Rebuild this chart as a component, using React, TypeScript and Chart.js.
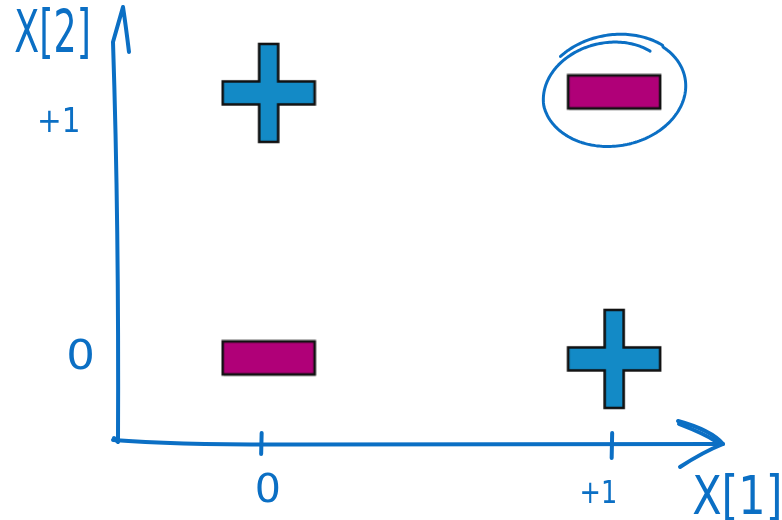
import React, { useEffect, useRef } from "react";
import { Chart, registerables } from "chart.js";

Chart.register(...registerables);

// ---- data ----
const X_TICK_VALUES = [0, 1];
const X_TICK_LABELS = ["0", "+1"];
const Y_TICK_VALUES = [0, 1];
const Y_TICK_LABELS = ["0", "+1"];
const X_TITLE = "X[1]";
const Y_TITLE = "X[2]";
const PLUS_X = [0, 1];
const PLUS_Y = [1, 0];
const MINUS_X = [0, 1];
const MINUS_Y = [0, 1];
const CIRCLED_X = [1];
const CIRCLED_Y = [1];

// ---- style ----
const PEN = "#0b6fc4";
const PLUS_FILL = "#138ac6";
const MINUS_FILL = "#b00078";
const FONT = "'DejaVu Sans'";

function makePlus(): HTMLCanvasElement {
  const W = 92, H = 98, vw = 19, hh = 23, pad = 2;
  const c = document.createElement("canvas");
  c.width = W + pad * 2;
  c.height = H + pad * 2;
  const g = c.getContext("2d")!;
  g.translate(pad, pad);
  const cx = W / 2, cy = H / 2;
  g.beginPath();
  g.moveTo(cx - vw / 2, 0);
  g.lineTo(cx + vw / 2, 0);
  g.lineTo(cx + vw / 2, cy - hh / 2);
  g.lineTo(W, cy - hh / 2);
  g.lineTo(W, cy + hh / 2);
  g.lineTo(cx + vw / 2, cy + hh / 2);
  g.lineTo(cx + vw / 2, H);
  g.lineTo(cx - vw / 2, H);
  g.lineTo(cx - vw / 2, cy + hh / 2);
  g.lineTo(0, cy + hh / 2);
  g.lineTo(0, cy - hh / 2);
  g.lineTo(cx - vw / 2, cy - hh / 2);
  g.closePath();
  g.fillStyle = PLUS_FILL;
  g.fill();
  g.lineWidth = 2.6;
  g.strokeStyle = "#111";
  g.lineJoin = "miter";
  g.stroke();
  return c;
}

function makeMinus(): HTMLCanvasElement {
  const W = 92, H = 33, pad = 2;
  const c = document.createElement("canvas");
  c.width = W + pad * 2;
  c.height = H + pad * 2 + 2;
  const g = c.getContext("2d")!;
  g.translate(pad, pad);
  g.fillStyle = "rgba(0,0,0,0.18)";
  g.fillRect(1, H, W, 2);
  g.fillStyle = MINUS_FILL;
  g.fillRect(0, 0, W, H);
  g.lineWidth = 2.6;
  g.strokeStyle = "#111";
  g.strokeRect(0, 0, W, H);
  return c;
}

function drawFit(ctx: CanvasRenderingContext2D, text: string, left: number, top: number, w: number, h: number) {
  ctx.save();
  ctx.font = `100px ${FONT}`;
  ctx.textAlign = "left";
  ctx.textBaseline = "alphabetic";
  const m = ctx.measureText(text);
  const bw = m.actualBoundingBoxLeft + m.actualBoundingBoxRight;
  const bh = m.actualBoundingBoxAscent + m.actualBoundingBoxDescent;
  ctx.translate(left, top);
  ctx.scale(w / bw, h / bh);
  ctx.fillStyle = PEN;
  ctx.fillText(text, m.actualBoundingBoxLeft, m.actualBoundingBoxAscent);
  ctx.restore();
}

const handDrawn = {
  id: "handDrawn",
  beforeDatasetsDraw(chart: any) {
    const ctx: CanvasRenderingContext2D = chart.ctx;
    const { left, right, top, bottom } = chart.chartArea;
    const xs = chart.scales.x;
    const ys = chart.scales.y;
    ctx.save();
    ctx.strokeStyle = PEN;
    ctx.lineWidth = 4;
    ctx.lineCap = "round";
    ctx.lineJoin = "round";

    // y axis with arrow
    ctx.beginPath();
    ctx.moveTo(left - 4, bottom - 6);
    ctx.lineTo(left, bottom - 2);
    ctx.quadraticCurveTo(left + 1, bottom - 220, left - 5, top + 35);
    ctx.lineTo(left + 5, top);
    ctx.quadraticCurveTo(left + 8, top + 20, left + 11, top + 45);
    ctx.stroke();

    // x axis with arrow
    ctx.beginPath();
    ctx.moveTo(left - 5, bottom - 4);
    ctx.quadraticCurveTo(left + 60, bottom + 1, left + 180, bottom + 0.5);
    ctx.lineTo(right, bottom);
    ctx.stroke();
    ctx.beginPath();
    ctx.moveTo(right - 45, bottom - 23);
    ctx.quadraticCurveTo(right - 12, bottom - 14, right, bottom);
    ctx.quadraticCurveTo(right - 20, bottom + 8, right - 43, bottom + 23);
    ctx.stroke();
    ctx.beginPath();
    ctx.moveTo(right - 44, bottom - 20);
    ctx.quadraticCurveTo(right - 18, bottom - 10, right - 6, bottom - 2);
    ctx.stroke();

    // x tick marks
    const tickNudge = [-7, -2];
    const tickLen = [[-11, 10], [-11, 14]];
    X_TICK_VALUES.forEach((v, i) => {
      const px = xs.getPixelForValue(v) + tickNudge[i];
      ctx.beginPath();
      ctx.moveTo(px, bottom + tickLen[i][0]);
      ctx.lineTo(px - 0.5, bottom + tickLen[i][1]);
      ctx.stroke();
    });
    ctx.restore();

    // x tick labels
    const xBoxes = [
      [-11.5, 29, 21, 29],
      [-32, 36, 33, 23],
    ];
    X_TICK_VALUES.forEach((v, i) => {
      const px = xs.getPixelForValue(v);
      const b = xBoxes[i];
      drawFit(ctx, X_TICK_LABELS[i], px + b[0], bottom + b[1], b[2], b[3]);
    });

    // y tick labels
    const yBoxes = [
      [-49, -20, 23, 31],
      [-78, 14, 38, 25],
    ];
    Y_TICK_VALUES.forEach((v, i) => {
      const py = ys.getPixelForValue(v);
      const b = yBoxes[i];
      drawFit(ctx, Y_TICK_LABELS[i], left + b[0], py + b[1], b[2], b[3]);
    });

    // axis titles
    drawFit(ctx, Y_TITLE, left - 103, top, 73, 53);
    drawFit(ctx, X_TITLE, right - 30, bottom + 29, 86, 48);
  },
  afterDatasetsDraw(chart: any) {
    const ctx: CanvasRenderingContext2D = chart.ctx;
    const xs = chart.scales.x;
    const ys = chart.scales.y;
    ctx.save();
    ctx.strokeStyle = PEN;
    ctx.lineWidth = 3;
    ctx.lineCap = "round";
    ctx.lineJoin = "round";
    CIRCLED_X.forEach((v, i) => {
      const cx = xs.getPixelForValue(v);
      const cy = ys.getPixelForValue(CIRCLED_Y[i]) - 2;
      const rx = 72, ry = 55, rot = -0.17;
      const t0 = -0.8, t1 = -8.55, N = 260;
      ctx.beginPath();
      for (let k = 0; k <= N; k++) {
        const t = t0 + ((t1 - t0) * k) / N;
        const prog = (t0 - t) / 2.4;
        const f = Math.min(1, 0.84 + 0.16 * prog) + (t < -7 ? 0.02 : 0);
        const ex = rx * f * Math.cos(t);
        const ey = ry * f * Math.sin(t);
        const x = cx + ex * Math.cos(rot) - ey * Math.sin(rot);
        const y = cy + ex * Math.sin(rot) + ey * Math.cos(rot);
        if (k === 0) ctx.moveTo(x, y);
        else ctx.lineTo(x, y);
      }
      ctx.stroke();
    });
    ctx.restore();
  },
};

export default function App() {
  const ref = useRef<HTMLCanvasElement | null>(null);
  useEffect(() => {
    if (!ref.current) return;
    const plus = makePlus();
    const minus = makeMinus();
    const chart = new Chart(ref.current, {
      type: "scatter",
      data: {
        datasets: [
          {
            label: "+",
            data: PLUS_X.map((x, i) => ({ x, y: PLUS_Y[i] })),
            pointStyle: plus as any,
            pointRadius: 20,
          },
          {
            label: "-",
            data: MINUS_X.map((x, i) => ({ x, y: MINUS_Y[i] })),
            pointStyle: minus as any,
            pointRadius: 20,
          },
        ],
      },
      options: {
        animation: false,
        responsive: false,
        devicePixelRatio: 1,
        layout: { autoPadding: false, padding: { left: 118, right: 59, top: 7, bottom: 76 } },
        plugins: { legend: { display: false }, tooltip: { enabled: false } },
        scales: {
          x: { type: "linear", display: false, min: -0.436, max: 1.315 },
          y: { type: "linear", display: false, min: -0.32, max: 1.323 },
        },
      },
      plugins: [handDrawn],
    });
    return () => chart.destroy();
  }, []);
  return (
    <div style={{ position: "absolute", left: 0, top: 0, width: 782, height: 520, background: "#fff" }}>
      <canvas ref={ref} width={782} height={520} style={{ width: 782, height: 520, display: "block" }} />
    </div>
  );
}
